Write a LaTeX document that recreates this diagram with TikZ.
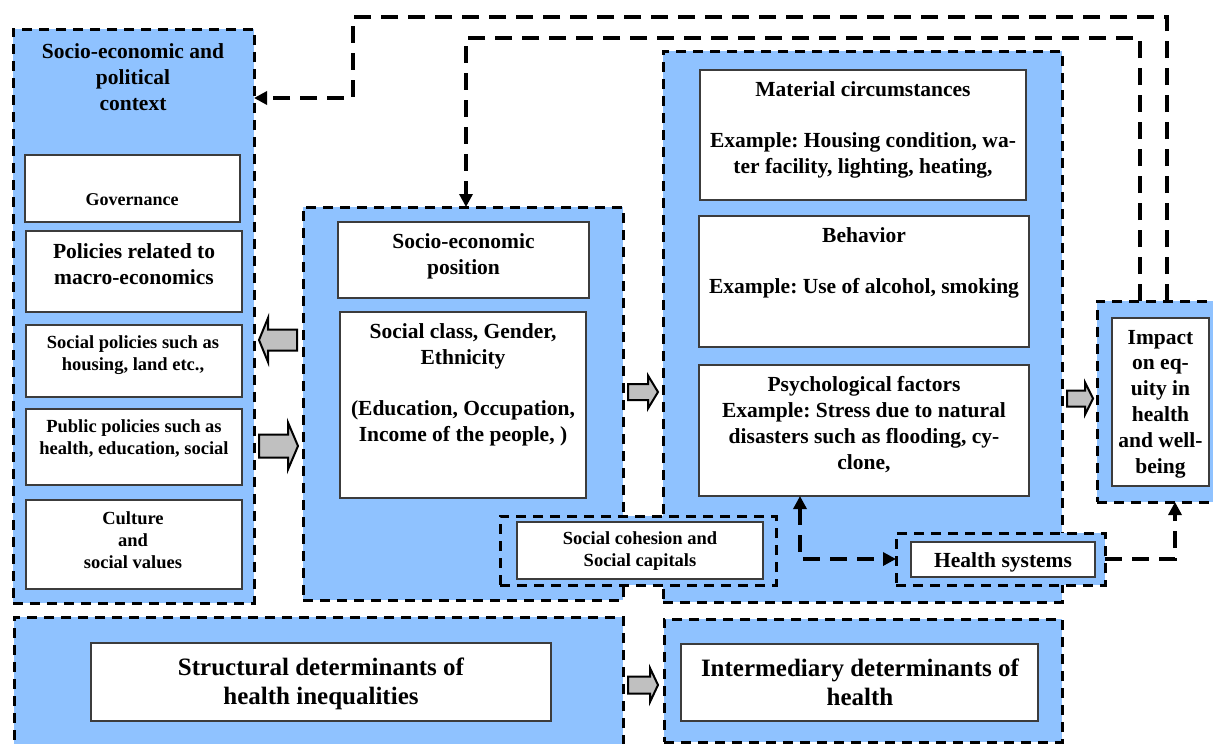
\documentclass[tikz,border=0pt]{standalone}
\usepackage{fontspec}
\setmainfont{Liberation Serif}
\frenchspacing
\usetikzlibrary{arrows.meta}
\definecolor{boxblue}{RGB}{143,194,255}
\definecolor{agray}{RGB}{192,192,192}
\definecolor{wline}{RGB}{60,60,60}
\tikzset{
 dbox/.style={draw=black, fill=boxblue, line width=3pt, dash pattern=on 10pt off 7pt, inner sep=0pt, outer sep=0pt},
 wbox/.style={draw=wline, fill=white, line width=1.2pt, inner sep=0pt, outer sep=0pt},
 txt/.style={align=center, inner sep=0pt, font=\bfseries\fontsize{21.5}{25.8}\selectfont},
 stxt/.style={align=center, inner sep=0pt, font=\bfseries\fontsize{18.5}{22}\selectfont},
 gtxt/.style={align=center, inner sep=0pt, font=\bfseries\fontsize{18}{21.6}\selectfont},
 btxt/.style={align=center, inner sep=0pt, font=\bfseries\fontsize{25}{29}\selectfont},
 conn/.style={line width=4pt, dash pattern=on 17pt off 10pt},
 tipend/.style={-{Triangle[length=13pt,width=13pt]}},
 tipboth/.style={{Triangle[length=13pt,width=13pt]}-{Triangle[length=13pt,width=13pt]}},
 barrow/.style={draw=black, fill=agray, line width=2pt, line join=miter},
}
\newcommand\bx[6]{\node[#6, minimum width={(#4-#2)*1pt}, minimum height={(#5-#3)*1pt}] (#1) at ({(#2+#4)/2},{(#3+#5)/2}) {};}
\newcommand\barr[6]{\draw[barrow] (#1,{#3-#4}) -- ({#2-#6*sign(#2-#1)},{#3-#4}) -- ({#2-#6*sign(#2-#1)},{#3-#5}) -- (#2,#3) -- ({#2-#6*sign(#2-#1)},{#3+#5}) -- ({#2-#6*sign(#2-#1)},{#3+#4}) -- (#1,{#3+#4}) -- cycle;}
\begin{document}
\begin{tikzpicture}[x=1pt,y=-1pt]
\useasboundingbox (0,0) rectangle (1213,744);
\clip (0,0) rectangle (1213,744);
\fill[white] (0,0) rectangle (1213,744);
% outer dashed boxes
\bx{ctx}{13}{29}{254}{603}{dbox}
\bx{mid}{303}{207}{623}{600}{dbox}
\bx{rgt}{663}{51}{1062}{602}{dbox}
\bx{scd}{500}{516}{776}{585}{dbox}
\bx{hs}{896}{533}{1105}{585}{dbox}
\bx{imp}{1097}{301}{1230}{502}{dbox}
\bx{str}{14}{617}{623}{765}{dbox}
\bx{int}{664}{619}{1062}{742}{dbox}
% left column
\node[txt] (tctx) at (133,77) {Socio-economic and\\political\\context};
\bx{gov}{25}{155}{240}{222}{wbox}
\node[gtxt] (tgov) at (132,200) {Governance};
\bx{mac}{26}{231}{242}{312}{wbox}
\node[txt] (tmac) at (134,264) {Policies related to\\macro-economics};
\bx{soc}{26}{325}{242}{397}{wbox}
\node[stxt] (tsoc) at (133,355) {Social policies such as\\housing, land etc.,};
\bx{pub}{26}{409}{242}{485}{wbox}
\node[stxt] (tpub) at (134,438.5) {Public policies such as\\health, education, social};
\bx{cul}{26}{500}{242}{589}{wbox}
\node[stxt] (tcul) at (133,540) {Culture\\and\\social values};
% middle
\bx{sep}{338}{222}{589}{298}{wbox}
\node[txt] (tsep) at (463.5,256.5) {Socio-economic\\position};
\bx{scl}{340}{312}{586}{498}{wbox}
\node[txt] (tscl) at (463,385) {Social class, Gender,\\Ethnicity\\[25.8pt](Education, Occupation,\\Income of the people, )};
% right
\bx{mat}{700}{70}{1026}{200}{wbox}
\node[txt] (tmat) at (863,130) {Material circumstances\\[25.8pt]Example: Housing condition, wa-\\ter facility, lighting, heating,};
\bx{beh}{699}{216}{1029}{347}{wbox}
\node[txt] (tbeh) at (864,263) {Behavior\\[25.8pt]Example: Use of alcohol, smoking};
\bx{psy}{699}{365}{1029}{496}{wbox}
\node[txt] (tpsy) at (864,424.5) {Psychological factors\\Example: Stress due to natural\\disasters such as flooding, cy-\\clone,};
% social cohesion
\bx{sc}{517}{522}{763}{579}{wbox}
\node[stxt] (tsc) at (640,551.5) {Social cohesion and\\Social capitals};
% health systems
\bx{hsi}{911}{542}{1095}{577}{wbox}
\node[txt] (ths) at (1003,562) {Health systems};
% impact
\bx{impi}{1112}{318}{1209}{486}{wbox}
\node[txt] (timp) at (1160.5,404) {Impact\\on eq-\\uity in\\health\\and well-\\being};
% bottom
\bx{stri}{91}{643}{551}{721}{wbox}
\node[btxt] (tstr) at (321,683.5) {Structural determinants of\\health inequalities};
\bx{inti}{681}{644}{1038}{721}{wbox}
\node[btxt] (tint) at (860,682.5) {Intermediary determinants of\\health};
% block arrows
\barr{297}{259}{340}{10.5}{22}{9}
\barr{259}{298}{446}{11.5}{23.5}{10}
\barr{628}{658}{392}{8}{16.5}{10}
\barr{1067}{1093}{398.5}{8}{16}{8}
\barr{628}{658}{685}{8.5}{17}{8}
% dashed connectors
\draw[conn, tipend] (imp.north -| 1167,0) -- (1167,17) -- (353,17) -- (353,98) -- (ctx.east |- 0,98);
\draw[conn, tipend] (imp.north -| 1140,0) -- (1140,38) -- (466,38) -- (mid.north -| 466,0);
\draw[conn, tipboth] (psy.south -| 800,0) |- (hs.west);
\draw[conn, tipend] (hs.east) -| (imp.south -| 1175,0);
\end{tikzpicture}
\end{document}
